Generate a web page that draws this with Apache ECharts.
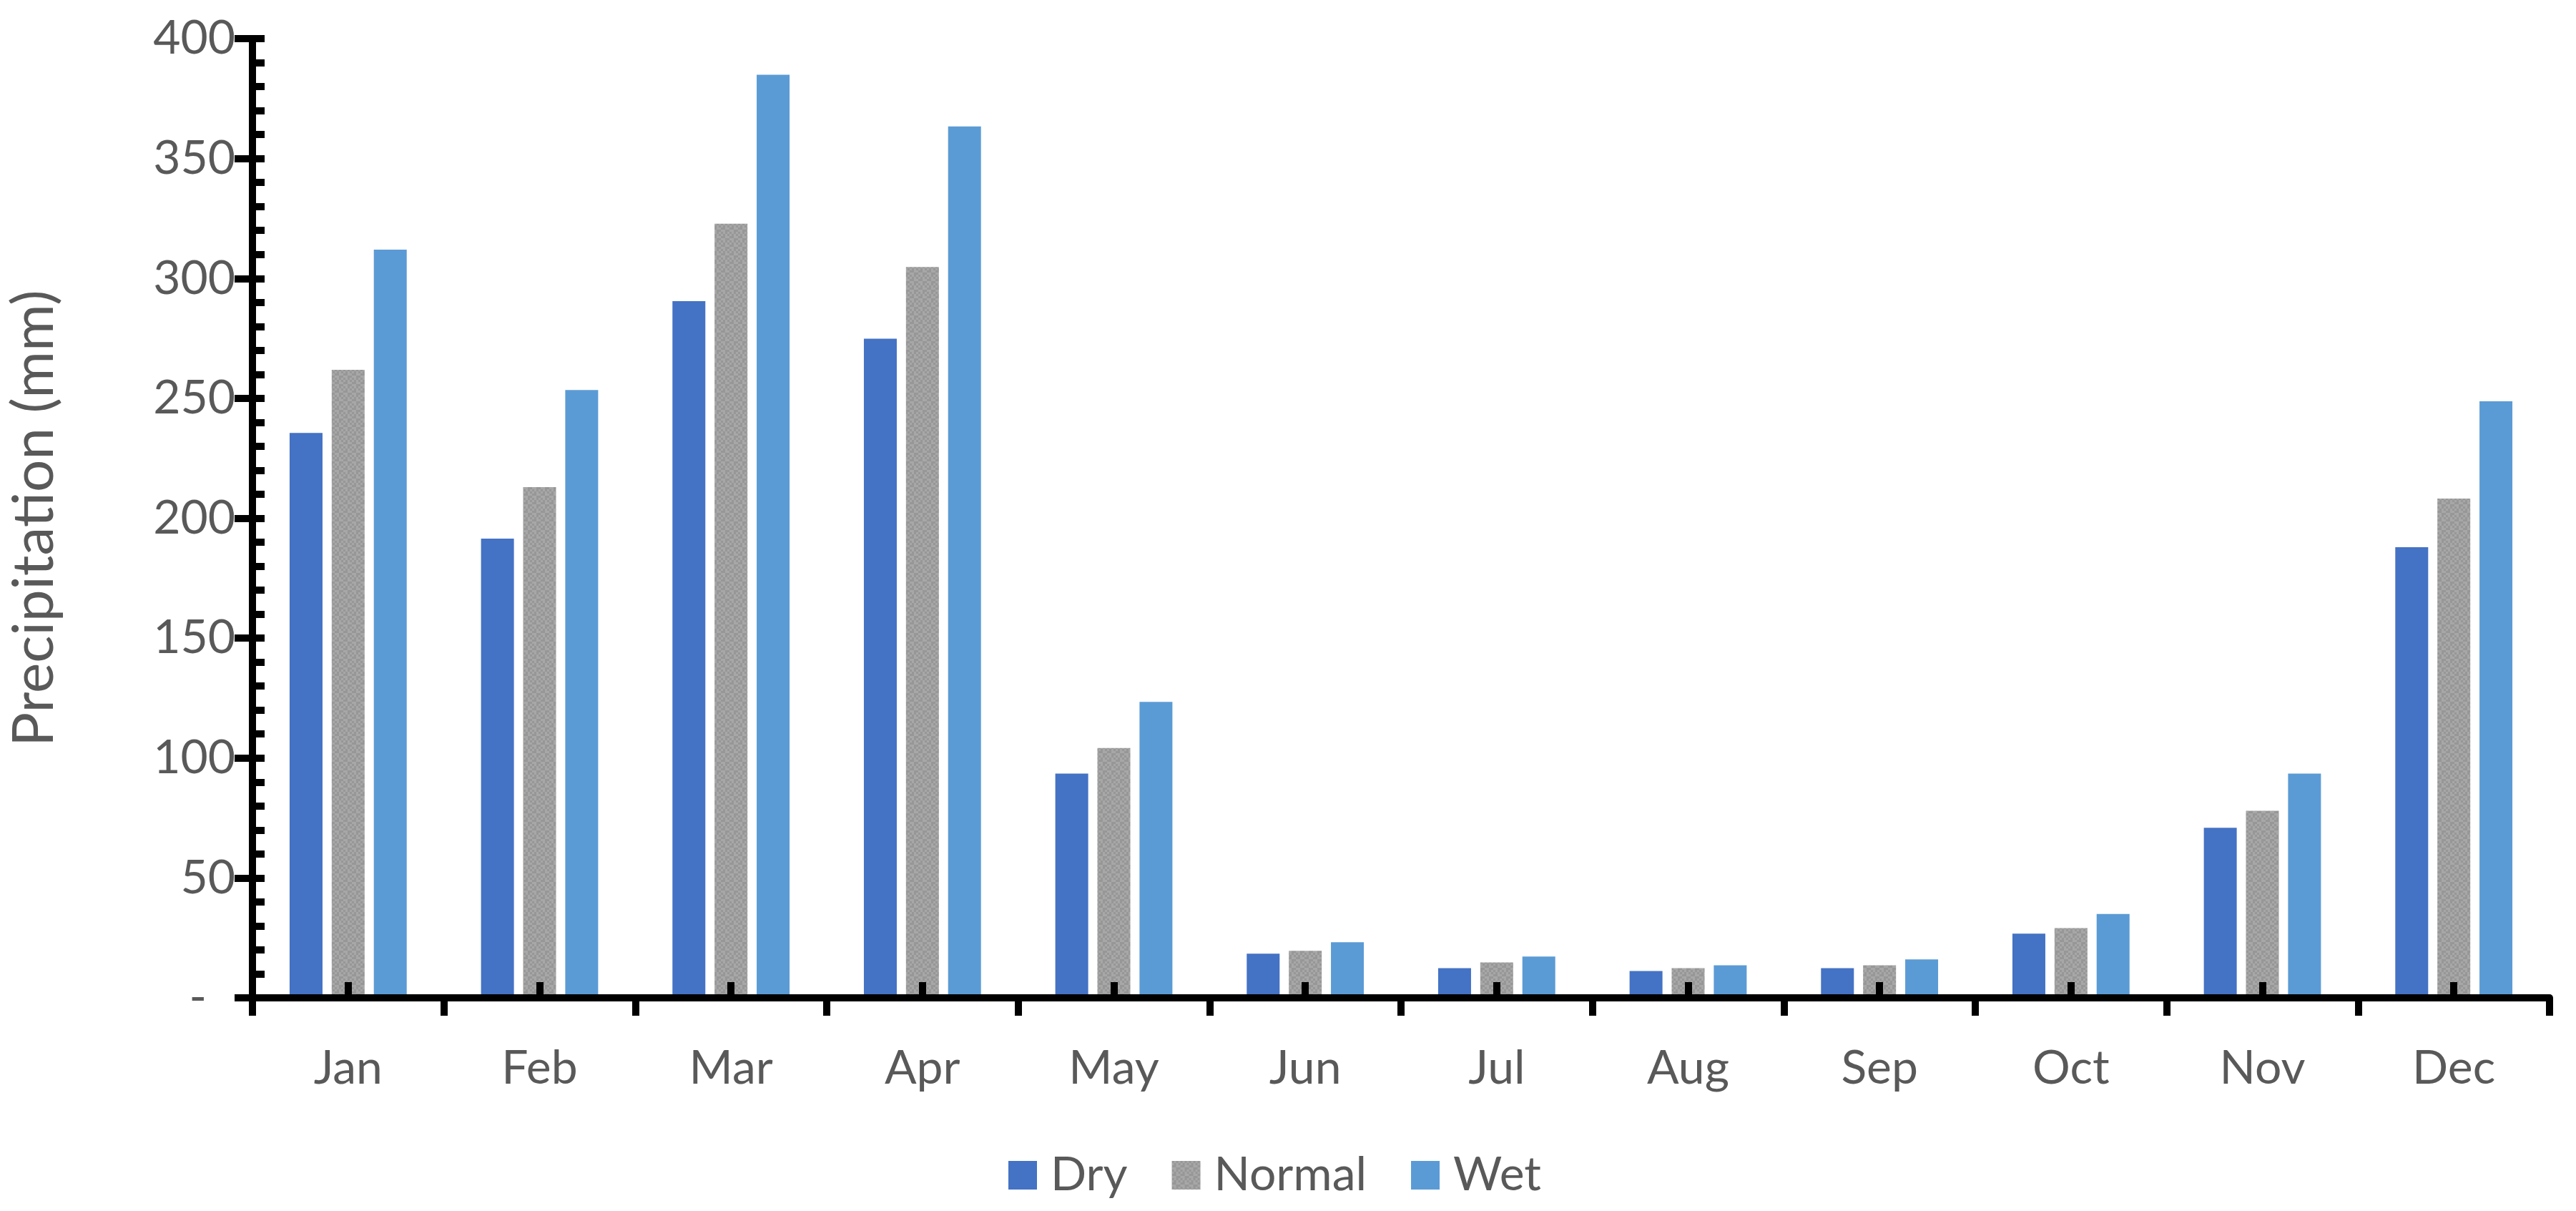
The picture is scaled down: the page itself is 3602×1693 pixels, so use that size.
<!DOCTYPE html>
<html>
<head>
<meta charset="utf-8">
<script src="https://cdn.jsdelivr.net/npm/echarts@6/dist/echarts.min.js"></script>
<style>
html,body{margin:0;padding:0;background:#fff;}
#chart{width:3602px;height:1693px;}
</style>
</head>
<body>
<div id="chart"></div>
<script>
const months = ['Jan','Feb','Mar','Apr','May','Jun','Jul','Aug','Sep','Oct','Nov','Dec'];
const dry    = [235.6, 191.5, 290.5, 274.9, 93.5, 18.4, 12.4, 11.2, 12.4, 26.8, 70.9, 187.9];
const normal = [261.9, 213.0, 322.8, 304.8, 104.2, 19.6, 14.8, 12.4, 13.6, 29.1, 78.0, 208.2];
const wet    = [312.0, 253.5, 384.9, 363.4, 123.4, 23.2, 17.2, 13.6, 16.0, 35.0, 93.5, 248.8];
const seriesNames = ['Dry','Normal','Wet'];
const yTicks = [0, 50, 100, 150, 200, 250, 300, 350, 400];

const FONT = 'Lato';
const TXT = '#595959';

// deterministic gray dither pattern for "Normal"
function makePattern(){
  const c = document.createElement('canvas');
  c.width = 12; c.height = 12;
  const g = c.getContext('2d');
  g.fillStyle = '#a7a7a7';
  g.fillRect(0,0,12,12);
  g.fillStyle = '#979797';
  const cells = [[0,0],[2,0],[1,1],[3,1],[0,2],[2,3],[1,2],[3,3]];
  cells.forEach(([i,j]) => g.fillRect(i*3, j*3, 3, 3));
  return c;
}
const pattern = makePattern();

const chart = echarts.init(document.getElementById('chart'));
const barCommon = {type:'bar', barWidth:46, barGap:'28%', xAxisIndex:0, yAxisIndex:0, z:2};

chart.setOption({
  animation:false,
  backgroundColor:'#ffffff',
  grid:{left:345, right:37, top:54, bottom:298, containLabel:false},
  legend:{
    data:seriesNames,
    left:1405, top:1605,
    icon:'rect', itemWidth:40, itemHeight:40, itemGap:62,
    textStyle:{fontFamily:FONT, fontSize:66, color:TXT, padding:[0,0,0,14]}
  },
  xAxis:[
    {
      type:'category', data:months, position:'bottom', z:10,
      boundaryGap:true,
      axisLine:{show:true, lineStyle:{color:'#000', width:10}},
      axisTick:{show:true, inside:false, length:25, alignWithLabel:false, lineStyle:{color:'#000', width:10}},
      axisLabel:{show:true, margin:66, fontFamily:FONT, fontSize:66, color:TXT, interval:0},
      splitLine:{show:false}
    },
    {
      type:'category', data:months, position:'bottom', z:10,
      boundaryGap:true,
      axisLine:{show:false},
      axisTick:{show:true, inside:true, length:22, alignWithLabel:true, interval:0, lineStyle:{color:'#000', width:10}},
      axisLabel:{show:false},
      splitLine:{show:false}
    }
  ],
  yAxis:[
    {
      type:'value', min:yTicks[0], max:yTicks[yTicks.length-1], interval:50, position:'left', z:10,
      name:'Precipitation (mm)', nameLocation:'middle', nameGap:265,
      nameTextStyle:{fontFamily:FONT, fontSize:80, color:TXT},
      axisLine:{show:true, lineStyle:{color:'#000', width:10}},
      axisTick:{show:true, inside:false, length:25, lineStyle:{color:'#000', width:10}},
      axisLabel:{
        show:true, margin:24, fontFamily:FONT, fontSize:66, color:TXT,
        formatter:function(v){ return v === 0 ? '{d|-}' : String(v); },
        rich:{d:{fontFamily:FONT, fontSize:66, color:TXT, padding:[0,40,0,0]}}
      },
      splitLine:{show:false}
    },
    {
      type:'value', min:yTicks[0], max:yTicks[yTicks.length-1], interval:50, position:'left', z:10,
      axisLine:{show:false},
      axisTick:{show:true, inside:true, length:17, lineStyle:{color:'#000', width:10}},
      minorTick:{show:true, splitNumber:5, length:17, lineStyle:{color:'#000', width:10}},
      axisLabel:{show:false},
      splitLine:{show:false}
    }
  ],
  series:[
    Object.assign({}, barCommon, {name:'Dry', data:dry, itemStyle:{color:'#4472C4'}}),
    Object.assign({}, barCommon, {name:'Normal', data:normal, itemStyle:{color:{image:pattern, repeat:'repeat'}}}),
    Object.assign({}, barCommon, {name:'Wet', data:wet, itemStyle:{color:'#5B9BD5'}})
  ]
});
</script>
</body>
</html>
